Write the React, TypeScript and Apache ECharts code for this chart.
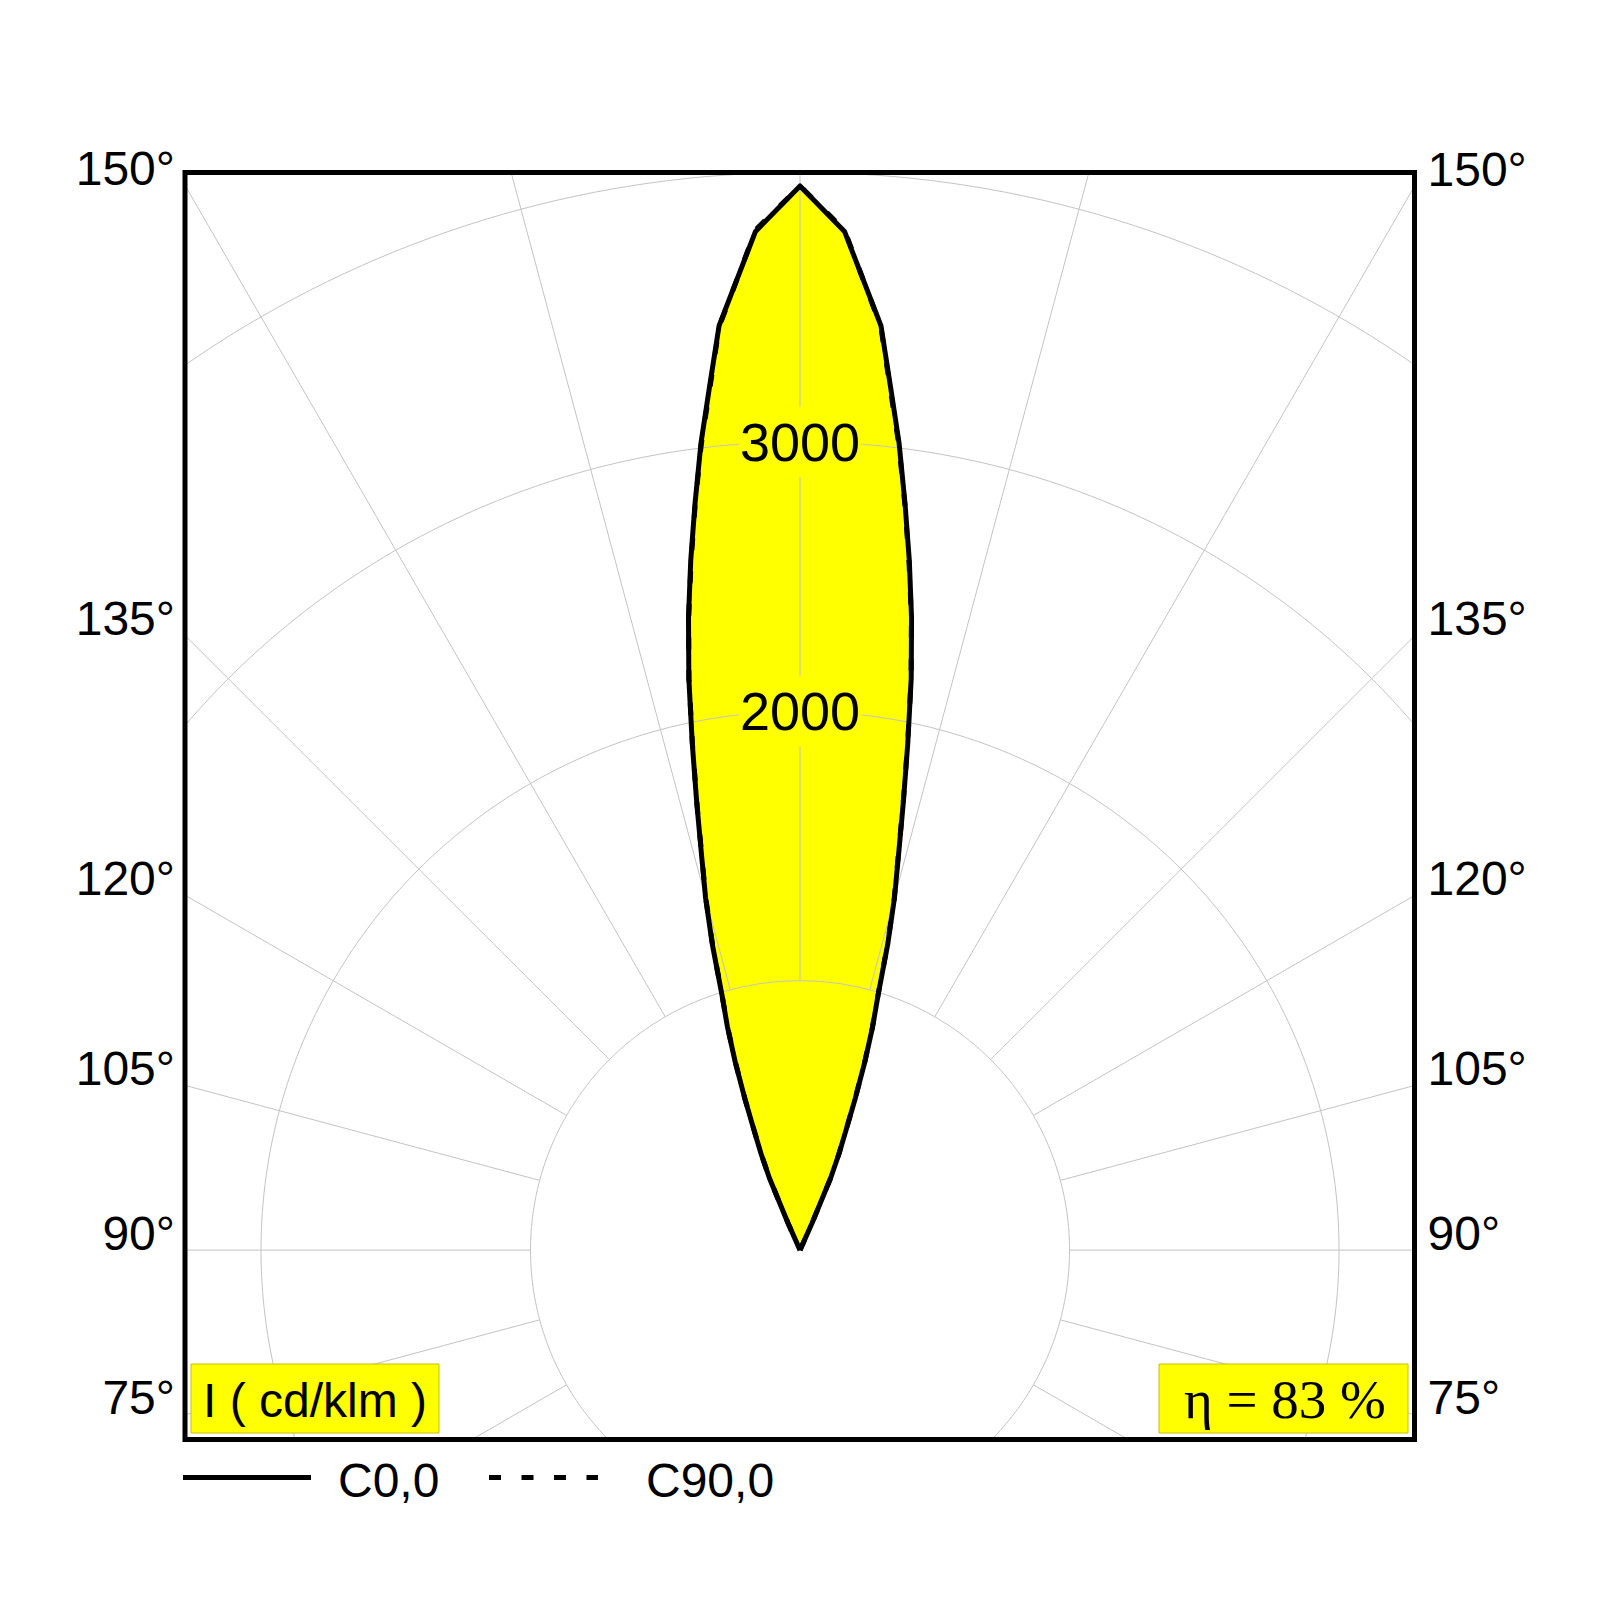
import {useEffect, useRef} from 'react';
import * as echarts from 'echarts';

// gamma angles (deg from nadir) and intensities in cd/klm, mirrored to both sides
const GAMMA = [180, 177.5, 175, 174, 173, 172, 171, 170, 169, 168, 167, 166, 165, 164, 163, 162, 161, 160, 159, 158, 157, 156, 155];
const C0 = [3950, 3785, 3445, 3218, 3017, 2799, 2592, 2383, 2162, 1923, 1703, 1510, 1354, 1180, 991, 872, 738, 600, 475, 386, 290, 110, 0];
const C90 = [3950, 3790, 3440, 3210, 3010, 2795, 2585, 2380, 2160, 1920, 1700, 1505, 1350, 1175, 990, 868, 735, 598, 472, 384, 288, 108, 0];

const RINGS = [1000, 2000, 3000, 4000];
const RING_LABELS = [2000, 3000];
const SPOKES = [0, 15, 30, 45, 60, 75, 90, 105, 120, 135, 150, 165, 180];
const SIDE_ANGLES = [150, 135, 120, 105, 90, 75];

const LEGEND = ['C0,0', 'C90,0'];
const UNIT = 'I ( cd/klm )';
const EFFICIENCY = 'η = 83 %';

// axis window (cd/klm) that maps to the frame
const XMIN = -2282;
const XMAX = 2280;
const YMIN = -703;
const YMAX = 4000;

// frame in pixels
const FL = 185;
const FT = 172.5;
const FR = 1414.5;
const FB = 1439.5;

const SANS = '"Liberation Sans", Arial, sans-serif';
const SERIF = '"Liberation Serif", "Times New Roman", serif';
const GRID_GRAY = '#c4c4c4';

const rad = (d: number) => (d * Math.PI) / 180;
const polar = (g: number, r: number, side: number) => [side * r * Math.sin(rad(g)), -r * Math.cos(rad(g))];

const outline = (vals: number[]) => {
    const pts: number[][] = [];
    for (let i = GAMMA.length - 1; i >= 0; i--) pts.push(polar(GAMMA[i], vals[i], 1));
    for (let i = 1; i < GAMMA.length; i++) pts.push(polar(GAMMA[i], vals[i], -1));
    return pts;
};

const App = () => {
    const chartRef = useRef<HTMLDivElement>(null);

    useEffect(() => {
        const chart = echarts.init(chartRef.current!, null, {renderer: 'svg'});

        const c0Pts = outline(C0);
        const c90Pts = outline(C90);

        const ringSeries = RINGS.map((r) => {
            const pts: number[][] = [];
            for (let t = 0; t <= 360; t += 1) pts.push([r * Math.sin(rad(t)), r * Math.cos(rad(t))]);
            return {
                type: 'line',
                data: pts,
                showSymbol: false,
                silent: true,
                z: 2,
                lineStyle: {color: GRID_GRAY, width: 1},
            };
        });

        const spokeSeries: any[] = [];
        SPOKES.forEach((g) => {
            [-1, 1].forEach((side) => {
                if ((g === 0 || g === 180) && side === 1) return;
                spokeSeries.push({
                    type: 'line',
                    data: [polar(g, 1000, side), polar(g, 9000, side)],
                    showSymbol: false,
                    silent: true,
                    z: 2,
                    lineStyle: {color: GRID_GRAY, width: 1},
                });
            });
        });

        const sideLabels = [
            ...SIDE_ANGLES.map((g) => ({
                name: g + '°',
                value: [XMIN, (XMIN * Math.cos(rad(g))) / Math.sin(rad(g))],
                label: {position: 'left', distance: 10},
            })),
            ...SIDE_ANGLES.map((g) => ({
                name: g + '°',
                value: [XMAX, (-XMAX * Math.cos(rad(g))) / Math.sin(rad(g))],
                label: {position: 'right', distance: 13},
            })),
        ];

        chart.setOption({
            animation: false,
            backgroundColor: '#fff',
            grid: {left: FL, top: FT, right: 1600 - FR, bottom: 1600 - FB},
            xAxis: {type: 'value', min: XMIN, max: XMAX, show: false},
            yAxis: {type: 'value', min: YMIN, max: YMAX, show: false},
            series: [
                {
                    type: 'custom',
                    data: c0Pts,
                    z: 1,
                    silent: true,
                    renderItem: (params: any, api: any) => {
                        if (params.dataIndex !== 0) return;
                        return {
                            type: 'polygon',
                            shape: {points: c0Pts.map((p) => api.coord(p))},
                            style: {fill: '#ffff00'},
                        };
                    },
                },
                ...ringSeries,
                ...spokeSeries,
                {
                    type: 'scatter',
                    symbolSize: 0,
                    z: 3,
                    silent: true,
                    itemStyle: {opacity: 1},
                    data: RING_LABELS.map((v) => ({name: String(v), value: [0, v]})),
                    label: {
                        show: true,
                        position: 'inside',
                        formatter: '{b}',
                        fontSize: 54,
                        fontFamily: SANS,
                        color: '#000',
                        opacity: 1,
                        backgroundColor: '#ffff00',
                        padding: [8, 1],
                    },
                },
                {
                    name: LEGEND[0],
                    type: 'line',
                    data: c0Pts,
                    showSymbol: false,
                    z: 4,
                    lineStyle: {color: '#000', width: 5, join: 'round'},
                },
                {
                    name: LEGEND[1],
                    type: 'line',
                    data: c90Pts,
                    showSymbol: false,
                    z: 5,
                    lineStyle: {color: '#000', width: 5, type: [12, 21]},
                },
                {
                    type: 'scatter',
                    symbolSize: 0,
                    clip: false,
                    silent: true,
                    itemStyle: {opacity: 1},
                    data: sideLabels,
                    label: {
                        show: true,
                        formatter: '{b}',
                        offset: [0, -17],
                        fontSize: 48,
                        fontFamily: SANS,
                        color: '#000',
                        opacity: 1,
                    },
                },
            ],
            graphic: [
                {
                    type: 'rect',
                    z: 100,
                    shape: {x: FL, y: FT, width: FR - FL, height: FB - FT},
                    style: {fill: 'none', stroke: '#000', lineWidth: 5},
                },
                {
                    type: 'rect',
                    z: 101,
                    shape: {x: 191, y: 1364, width: 248, height: 69},
                    style: {fill: '#ffff00', stroke: '#c8c000', lineWidth: 1},
                },
                {
                    type: 'text',
                    z: 102,
                    style: {
                        text: UNIT,
                        x: 203,
                        y: 1400,
                        fontSize: 48,
                        fontFamily: SANS,
                        fill: '#000',
                        align: 'left',
                        verticalAlign: 'middle',
                    },
                },
                {
                    type: 'rect',
                    z: 101,
                    shape: {x: 1159, y: 1364, width: 249, height: 69},
                    style: {fill: '#ffff00', stroke: '#c8c000', lineWidth: 1},
                },
                {
                    type: 'text',
                    z: 102,
                    style: {
                        text: EFFICIENCY,
                        x: 1285,
                        y: 1399,
                        fontSize: 55,
                        fontFamily: SERIF,
                        fill: '#000',
                        align: 'center',
                        verticalAlign: 'middle',
                    },
                },
                {
                    type: 'line',
                    shape: {x1: 183, y1: 1477.5, x2: 311, y2: 1477.5},
                    style: {stroke: '#000', lineWidth: 5},
                },
                {
                    type: 'text',
                    style: {
                        text: LEGEND[0],
                        x: 338,
                        y: 1480,
                        fontSize: 48,
                        fontFamily: SANS,
                        fill: '#000',
                        verticalAlign: 'middle',
                    },
                },
                {
                    type: 'line',
                    shape: {x1: 489, y1: 1477.5, x2: 598, y2: 1477.5},
                    style: {stroke: '#000', lineWidth: 5, lineDash: [12, 20.5]},
                },
                {
                    type: 'text',
                    style: {
                        text: LEGEND[1],
                        x: 646,
                        y: 1480,
                        fontSize: 48,
                        fontFamily: SANS,
                        fill: '#000',
                        verticalAlign: 'middle',
                    },
                },
            ],
        });

        return () => {
            chart.dispose();
        };
    }, []);

    return (
        <div
            ref={chartRef}
            style={{position: 'absolute', left: 0, top: 0, width: 1600, height: 1600, background: '#fff'}}
        />
    );
};

export default App;
